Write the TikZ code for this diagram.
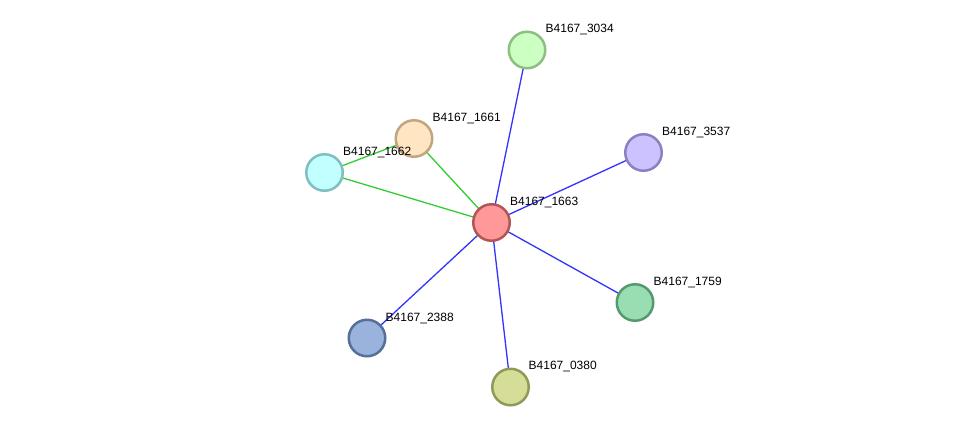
\documentclass[tikz,border=0pt]{standalone}
\usepackage{fontspec}
\setmainfont{Liberation Sans}
\usepackage{tikz}
\usetikzlibrary{backgrounds}
\definecolor{edgeBlue}{HTML}{3333FF}
\definecolor{edgeGreen}{HTML}{33CC33}
\definecolor{redFill}{HTML}{FF9999}
\definecolor{redLine}{HTML}{B35555}
\definecolor{lgreenFill}{HTML}{CCFFC2}
\definecolor{lgreenLine}{HTML}{8CBF80}
\definecolor{violetFill}{HTML}{CCC2FF}
\definecolor{violetLine}{HTML}{8C80BF}
\definecolor{mintFill}{HTML}{99DDB3}
\definecolor{mintLine}{HTML}{559970}
\definecolor{oliveFill}{HTML}{D5DD99}
\definecolor{oliveLine}{HTML}{909955}
\definecolor{steelFill}{HTML}{99B3DD}
\definecolor{steelLine}{HTML}{556F99}
\definecolor{cyanFill}{HTML}{C2FFFF}
\definecolor{cyanLine}{HTML}{80BFBF}
\definecolor{peachFill}{HTML}{FFE5C2}
\definecolor{peachLine}{HTML}{BFA580}

\begin{document}
\begin{tikzpicture}[x=1pt,y=-1pt,
  prot/.style={circle,inner sep=0pt,minimum size=36.5pt,line width=2.5pt},
  lbl/.style={anchor=base west,inner sep=0pt,font=\fontsize{12}{14}\selectfont},
  blu/.style={edgeBlue,line width=1.3pt},
  grn/.style={edgeGreen,line width=1.3pt}]
\useasboundingbox (0,0) rectangle (976,432);
\node[prot,fill=redFill,draw=redLine] (n1663) at (491.5,222.5){};
\node[prot,fill=lgreenFill,draw=lgreenLine] (n3034) at (527,50){};
\node[prot,fill=violetFill,draw=violetLine] (n3537) at (643.5,152.5){};
\node[prot,fill=mintFill,draw=mintLine] (n1759) at (635,302.5){};
\node[prot,fill=oliveFill,draw=oliveLine] (n0380) at (510.5,387){};
\node[prot,fill=steelFill,draw=steelLine] (n2388) at (367,338){};
\node[prot,fill=cyanFill,draw=cyanLine] (n1662) at (324.5,172.5){};
\node[prot,fill=peachFill,draw=peachLine] (n1661) at (414,138.5){};
% edges behind the proteins
\begin{pgfonlayer}{background}
\draw[blu] (n1663.center) -- (n3034.center);
\draw[blu] (n1663.center) -- (n3537.center);
\draw[blu] (n1663.center) -- (n1759.center);
\draw[blu] (n1663.center) -- (n0380.center);
\draw[blu] (n1663.center) -- (n2388.center);
\draw[grn] (n1663.center) -- (n1661.center);
\draw[grn] (n1663.center) -- (n1662.center);
\draw[grn] (n1661.center) -- (n1662.center);
\end{pgfonlayer}
% labels
\node[lbl] (t1663) at (510,205.5){B4167\_1663};
\node[lbl] (t3034) at (545.5,32.5){B4167\_3034};
\node[lbl] (t3537) at (662,135.5){B4167\_3537};
\node[lbl] (t1759) at (653.5,285.5){B4167\_1759};
\node[lbl] (t0380) at (528.5,369.5){B4167\_0380};
\node[lbl] (t2388) at (385.5,321){B4167\_2388};
\node[lbl] (t1662) at (343,155.5){B4167\_1662};
\node[lbl] (t1661) at (432.5,121.5){B4167\_1661};
\end{tikzpicture}
\end{document}
